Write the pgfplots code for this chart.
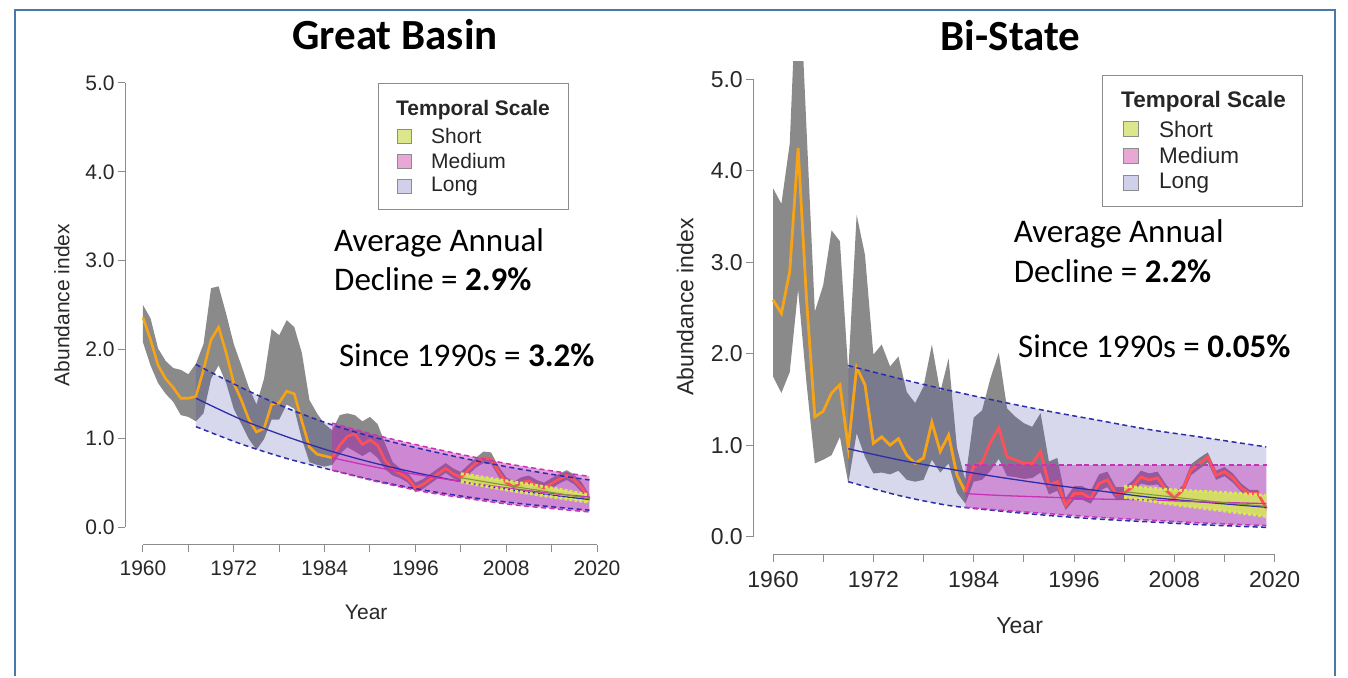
\documentclass[border=0pt]{standalone}
\usepackage{fontspec}
\setmainfont{Carlito}
\newfontfamily\helv{Liberation Sans}
\usepackage{pgfplots}
\pgfplotsset{compat=1.18}
\usepackage{pgfplotstable}
\usepgfplotslibrary{fillbetween}

\definecolor{framec}{RGB}{74,120,168}
\definecolor{cigray}{RGB}{138,138,138}
\definecolor{idxorange}{RGB}{247,163,22}
\definecolor{idxred}{RGB}{255,80,90}
\definecolor{longc}{RGB}{60,60,165}
\definecolor{longline}{RGB}{45,45,170}
\definecolor{medc}{RGB}{195,40,180}
\definecolor{medline}{RGB}{200,50,180}
\definecolor{shortc}{RGB}{215,232,85}
\definecolor{shortline}{RGB}{130,150,60}
\definecolor{axgray}{RGB}{140,140,140}
\definecolor{txtgray}{RGB}{40,40,40}
\definecolor{lgshort}{RGB}{222,230,140}
\definecolor{lgmed}{RGB}{232,168,214}
\definecolor{lglong}{RGB}{208,208,234}

% Great Basin: abundance index with its interval
\pgfplotstableread{
year idx lo hi
1960 2.36 2.08 2.50
1961 2.11 1.82 2.35
1962 1.82 1.62 2.01
1963 1.67 1.50 1.87
1964 1.57 1.41 1.79
1965 1.45 1.26 1.77
1966 1.45 1.24 1.72
1967 1.47 1.19 1.84
1968 1.77 1.28 2.06
1969 2.11 1.67 2.69
1970 2.25 1.82 2.71
1971 1.96 1.62 2.40
1972 1.62 1.33 2.06
1973 1.43 1.16 1.82
1974 1.21 0.99 1.57
1975 1.07 0.87 1.38
1976 1.11 0.99 1.67
1977 1.38 1.21 2.23
1978 1.40 1.21 2.16
1979 1.53 1.38 2.33
1980 1.50 1.33 2.25
1981 1.19 0.99 1.96
1982 0.90 0.73 1.43
1983 0.82 0.70 1.28
1984 0.80 0.68 1.16
1985 0.78 0.70 1.09
1986 0.92 0.82 1.26
1987 1.02 0.90 1.28
1988 1.05 0.85 1.26
1989 0.93 0.80 1.19
1990 0.98 0.85 1.24
1991 0.92 0.78 1.16
1992 0.75 0.65 0.94
1993 0.65 0.58 0.73
1994 0.60 0.55 0.66
1995 0.55 0.50 0.61
1996 0.44 0.39 0.50
1997 0.48 0.43 0.54
1998 0.54 0.49 0.60
1999 0.60 0.55 0.66
2000 0.66 0.61 0.72
2001 0.60 0.55 0.66
2002 0.56 0.51 0.62
2003 0.64 0.59 0.70
2004 0.72 0.67 0.78
2005 0.78 0.72 0.85
2006 0.77 0.71 0.84
2007 0.62 0.57 0.68
2008 0.50 0.45 0.56
2009 0.45 0.40 0.51
2010 0.50 0.45 0.56
2011 0.52 0.47 0.58
2012 0.47 0.42 0.53
2013 0.44 0.39 0.50
2014 0.49 0.44 0.55
2015 0.54 0.49 0.60
2016 0.58 0.53 0.64
2017 0.53 0.48 0.59
2018 0.44 0.39 0.50
2019 0.32 0.28 0.36
}\gbdata

\pgfplotstableread{
year lo mid hi
1967 1.13 1.45 1.83
1973 0.934 1.21 1.57
1979 0.772 1.017 1.34
1985 0.64 0.850 1.15
1991 0.517 0.711 1.00
1997 0.417 0.595 0.875
2003 0.337 0.497 0.763
2009 0.272 0.416 0.665
2015 0.22 0.348 0.58
2019 0.19 0.31 0.53
}\gblong

\pgfplotstableread{
year lo mid hi
1985 0.64 0.78 1.17
1991 0.51 0.67 1.03
1997 0.40 0.58 0.91
2003 0.32 0.50 0.80
2009 0.25 0.43 0.70
2015 0.20 0.37 0.62
2019 0.17 0.34 0.57
}\gbmed

\pgfplotstableread{
year lo mid hi
2002 0.51 0.555 0.60
2008 0.42 0.47 0.52
2014 0.34 0.39 0.44
2019 0.28 0.32 0.36
}\gbshort

% Bi-State
\pgfplotstableread{
year idx lo hi
1960 2.59 1.75 3.81
1961 2.44 1.57 3.64
1962 2.90 1.80 4.30
1963 4.25 2.70 6.50
1964 2.60 1.68 4.47
1965 1.31 0.80 2.46
1966 1.37 0.84 2.75
1967 1.57 0.89 3.35
1968 1.66 1.09 3.23
1969 0.97 0.58 1.80
1970 1.85 1.13 3.52
1971 1.66 0.87 3.08
1972 1.02 0.69 1.99
1973 1.09 0.70 2.10
1974 1.00 0.68 1.86
1975 1.07 0.72 1.97
1976 0.89 0.62 1.58
1977 0.80 0.60 1.46
1978 0.86 0.62 1.64
1979 1.25 0.84 2.10
1980 0.93 0.70 1.58
1981 1.11 0.80 1.95
1982 0.67 0.48 0.97
1983 0.49 0.36 0.62
1984 0.77 0.60 1.30
1985 0.81 0.62 1.38
1986 1.03 0.72 1.73
1987 1.19 0.85 2.01
1988 0.87 0.66 1.40
1989 0.84 0.65 1.31
1990 0.80 0.63 1.24
1991 0.80 0.64 1.20
1992 0.93 0.70 1.35
1993 0.56 0.46 0.82
1994 0.60 0.50 0.86
1995 0.34 0.29 0.42
1996 0.47 0.40 0.55
1997 0.47 0.40 0.55
1998 0.42 0.36 0.50
1999 0.58 0.50 0.68
2000 0.62 0.54 0.71
2001 0.47 0.41 0.54
2002 0.47 0.41 0.54
2003 0.545 0.49 0.61
2004 0.65 0.58 0.72
2005 0.62 0.56 0.69
2006 0.64 0.57 0.71
2007 0.51 0.46 0.57
2008 0.42 0.38 0.47
2009 0.51 0.46 0.56
2010 0.73 0.67 0.79
2011 0.80 0.74 0.86
2012 0.87 0.81 0.92
2013 0.67 0.62 0.72
2014 0.71 0.66 0.76
2015 0.64 0.59 0.69
2016 0.53 0.49 0.58
2017 0.47 0.44 0.51
2018 0.47 0.44 0.51
2019 0.31 0.28 0.34
}\bsdata

\pgfplotstableread{
year lo mid hi
1969 0.60 0.96 1.87
1975 0.45 0.84 1.73
1981 0.34 0.74 1.60
1987 0.28 0.65 1.48
1993 0.23 0.57 1.37
1999 0.19 0.50 1.27
2005 0.16 0.43 1.17
2011 0.13 0.38 1.09
2019 0.10 0.32 0.98
}\bslong

\pgfplotstableread{
year lo mid hi
1983 0.32 0.47 0.78
1987 0.29 0.45 0.78
1993 0.25 0.43 0.78
1999 0.21 0.41 0.78
2005 0.18 0.40 0.78
2011 0.15 0.38 0.78
2019 0.12 0.36 0.78
}\bsmed

\pgfplotstableread{
year lo mid hi
2002 0.43 0.49 0.55
2008 0.35 0.43 0.51
2014 0.28 0.37 0.48
2019 0.22 0.33 0.45
}\bsshort

\pgfplotsset{
  rplot/.style={
    scale only axis, anchor=south west,
    xmin=1957.64, xmax=2021.36, ymin=-0.2, ymax=5.2,
    axis x line*=bottom, axis y line*=left,
    axis line style={draw=none},
    xtick={1960,1966,...,2020},
    xticklabels={1960,,1972,,1984,,1996,,2008,,2020},
    ytick={0,1,2,3,4,5},
    yticklabels={0.0,1.0,2.0,3.0,4.0,5.0},
    tick align=outside, major tick length=7pt,
    tick style={axgray, line width=1pt},
    xticklabel style={yshift=-6pt},
    xlabel={Year}, ylabel={Abundance index},
  },
  bandedge/.style={line width=1.5pt, dash pattern=on 5pt off 3.5pt, smooth},
  shortedge/.style={shortc, line width=3pt, dash pattern=on 3pt off 2pt, smooth},
}

\begin{document}
\begin{tikzpicture}[x=1pt,y=1pt]
\path (0,0) rectangle (1348,676);
\draw[framec, line width=2pt] (15,0) -- (15,666) -- (1335,666) -- (1335,0);

% ---------- Great Basin ----------
\begin{axis}[rplot,
  at={(125.1pt,131.2pt)}, width=482.2pt, height=479.6pt,
  ticklabel style={font=\helv\fontsize{21}{21}\selectfont, text=txtgray},
  xlabel style={at={(axis description cs:0.5,-0.140)}, anchor=center,
    font=\helv\fontsize{21}{21}\selectfont, text=txtgray},
  ylabel style={at={(axis description cs:-0.131,0.5)}, anchor=center,
    font=\helv\fontsize{21}{21}\selectfont, text=txtgray},
]
\addplot[name path=gbhi, draw=none, forget plot] table[x=year,y=hi]{\gbdata};
\addplot[name path=gblo, draw=none, forget plot] table[x=year,y=lo]{\gbdata};
\addplot[fill=cigray, draw=none] fill between[of=gbhi and gblo];
\addplot[idxorange, line width=2.6pt, restrict x to domain=1960:1985] table[x=year,y=idx]{\gbdata};
\addplot[idxred, line width=2.6pt, restrict x to domain=1985:2019] table[x=year,y=idx]{\gbdata};

\addplot[name path=gbLhi, longline, bandedge] table[x=year,y=hi]{\gblong};
\addplot[name path=gbLlo, longline, bandedge] table[x=year,y=lo]{\gblong};
\addplot[fill=longc, fill opacity=0.2, draw=none] fill between[of=gbLhi and gbLlo];
\addplot[longline, line width=1.3pt, smooth] table[x=year,y=mid]{\gblong};

\addplot[name path=gbMhi, medline, bandedge] table[x=year,y=hi]{\gbmed};
\addplot[name path=gbMlo, medline, bandedge] table[x=year,y=lo]{\gbmed};
\addplot[fill=medc, fill opacity=0.45, draw=none] fill between[of=gbMhi and gbMlo];
\addplot[medline, line width=1.3pt, smooth] table[x=year,y=mid]{\gbmed};

\addplot[name path=gbShi, shortedge] table[x=year,y=hi]{\gbshort};
\addplot[name path=gbSlo, shortedge] table[x=year,y=lo]{\gbshort};
\addplot[fill=shortc, fill opacity=0.85, draw=none] fill between[of=gbShi and gbSlo];
\addplot[shortline, line width=1.1pt, smooth] table[x=year,y=mid]{\gbshort};

\coordinate (gbxa) at (axis cs:1960,-0.2);
\coordinate (gbxb) at (axis cs:2020,-0.2);
\coordinate (gbya) at (axis cs:1957.64,0);
\coordinate (gbyb) at (axis cs:1957.64,5);
\end{axis}
\draw[axgray, line width=1pt] (gbxa) -- (gbxb);
\draw[axgray, line width=1pt] (gbya) -- (gbyb);

% ---------- Bi-State ----------
\begin{axis}[rplot,
  at={(753.3pt,121.2pt)}, width=532.7pt, height=493.6pt,
  ticklabel style={font=\helv\fontsize{23}{23}\selectfont, text=txtgray},
  xlabel style={at={(axis description cs:0.5,-0.143)}, anchor=center,
    font=\helv\fontsize{23}{23}\selectfont, text=txtgray},
  ylabel style={at={(axis description cs:-0.128,0.502)}, anchor=center,
    font=\helv\fontsize{23}{23}\selectfont, text=txtgray},
]
\addplot[name path=bshi, draw=none, forget plot] table[x=year,y=hi]{\bsdata};
\addplot[name path=bslo, draw=none, forget plot] table[x=year,y=lo]{\bsdata};
\addplot[fill=cigray, draw=none] fill between[of=bshi and bslo];
\addplot[idxorange, line width=2.8pt, restrict x to domain=1960:1983] table[x=year,y=idx]{\bsdata};
\addplot[idxred, line width=2.8pt, restrict x to domain=1983:2019] table[x=year,y=idx]{\bsdata};

\addplot[name path=bsLhi, longline, bandedge] table[x=year,y=hi]{\bslong};
\addplot[name path=bsLlo, longline, bandedge] table[x=year,y=lo]{\bslong};
\addplot[fill=longc, fill opacity=0.2, draw=none] fill between[of=bsLhi and bsLlo];
\addplot[longline, line width=1.3pt, smooth] table[x=year,y=mid]{\bslong};

\addplot[name path=bsMhi, medline, bandedge] table[x=year,y=hi]{\bsmed};
\addplot[name path=bsMlo, medline, bandedge] table[x=year,y=lo]{\bsmed};
\addplot[fill=medc, fill opacity=0.4, draw=none] fill between[of=bsMhi and bsMlo];
\addplot[medline, line width=1.3pt, smooth] table[x=year,y=mid]{\bsmed};

\addplot[name path=bsShi, shortedge] table[x=year,y=hi]{\bsshort};
\addplot[name path=bsSlo, shortedge] table[x=year,y=lo]{\bsshort};
\addplot[fill=shortc, fill opacity=0.85, draw=none] fill between[of=bsShi and bsSlo];
\addplot[shortline, line width=1.1pt, smooth] table[x=year,y=mid]{\bsshort};

\coordinate (bsxa) at (axis cs:1960,-0.2);
\coordinate (bsxb) at (axis cs:2020,-0.2);
\coordinate (bsya) at (axis cs:1957.64,0);
\coordinate (bsyb) at (axis cs:1957.64,5);
\end{axis}
\draw[axgray, line width=1pt] (bsxa) -- (bsxb);
\draw[axgray, line width=1pt] (bsya) -- (bsyb);

% ---------- titles ----------
\node[anchor=base, inner sep=0pt, font=\bfseries\fontsize{43}{43}\selectfont] at (395,626.6) {Great Basin};
\node[anchor=base, inner sep=0pt, font=\bfseries\fontsize{43}{43}\selectfont] at (1010.6,625.7) {Bi-State};

% ---------- annotations ----------
\begin{scope}[every node/.style={anchor=base west, inner sep=0pt, font=\fontsize{33}{40}\selectfont}]
\node at (334,424.5) {Average Annual};
\node at (334,385) {Decline = \textbf{2.9\%}};
\node at (338.8,309.3) {Since 1990s = \textbf{3.2\%}};
\node at (1013.6,433) {Average Annual};
\node at (1013.6,393.5) {Decline = \textbf{2.2\%}};
\node at (1018,318) {Since 1990s = \textbf{0.05\%}};
\end{scope}

% ---------- legends ----------
\begin{scope}[every node/.style={anchor=west, inner sep=0pt, text=black!85}]
\draw[black!45, line width=1pt] (378,592) rectangle (568,466);
\node[font=\helv\bfseries\fontsize{21}{21}\selectfont] at (396,566) {Temporal Scale};
\draw[black!45, fill=lgshort] (397,532.7) rectangle ++(14,14);
\draw[black!45, fill=lgmed] (397,507.8) rectangle ++(14,14);
\draw[black!45, fill=lglong] (397,482.8) rectangle ++(14,14);
\node[font=\helv\fontsize{21}{21}\selectfont] at (431,539.7) {Short};
\node[font=\helv\fontsize{21}{21}\selectfont] at (431,514.8) {Medium};
\node[font=\helv\fontsize{21}{21}\selectfont] at (431,489.8) {Long};

\draw[black!45, line width=1pt] (1102,600) rectangle (1302.6,469);
\node[font=\helv\bfseries\fontsize{22.5}{23}\selectfont] at (1121,574) {Temporal Scale};
\draw[black!45, fill=lgshort] (1123,539.5) rectangle ++(15,15);
\draw[black!45, fill=lgmed] (1123,512.9) rectangle ++(15,15);
\draw[black!45, fill=lglong] (1123,485.8) rectangle ++(15,15);
\node[font=\helv\fontsize{22.5}{23}\selectfont] at (1159,547) {Short};
\node[font=\helv\fontsize{22.5}{23}\selectfont] at (1159,520.4) {Medium};
\node[font=\helv\fontsize{22.5}{23}\selectfont] at (1159,493.3) {Long};
\end{scope}
\end{tikzpicture}
\end{document}
